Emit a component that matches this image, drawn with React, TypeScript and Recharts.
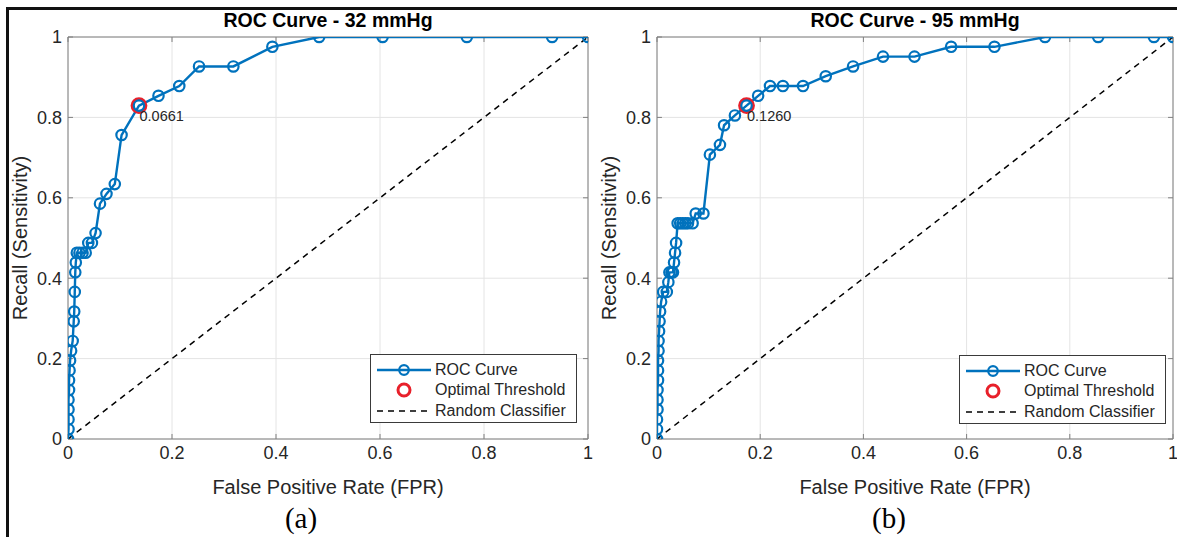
import React from 'react';
import {
  ComposedChart,
  Line,
  Scatter,
  XAxis,
  YAxis,
  CartesianGrid,
  ReferenceLine,
  ReferenceArea,
  Legend,
} from 'recharts';

// ---------- data ----------
const X_TICKS = [0, 0.2, 0.4, 0.6, 0.8, 1];
const Y_TICKS = [0, 0.2, 0.4, 0.6, 0.8, 1];

const FPR_32 = [0, 0.001, 0.001, 0.001, 0.001, 0.002, 0.002, 0.003, 0.004, 0.006, 0.009, 0.011, 0.012, 0.013, 0.014, 0.015, 0.017, 0.022, 0.028, 0.034, 0.039, 0.046, 0.053, 0.0615, 0.074, 0.09, 0.103, 0.1365, 0.174, 0.214, 0.252, 0.318, 0.393, 0.483, 0.605, 0.767, 0.931, 1];
const RECALL_32 = [0, 0.0244, 0.0488, 0.0732, 0.0976, 0.122, 0.1463, 0.1707, 0.1951, 0.2195, 0.2439, 0.2927, 0.3171, 0.3659, 0.4146, 0.439, 0.4634, 0.4634, 0.4634, 0.4634, 0.4878, 0.4878, 0.5122, 0.5854, 0.6098, 0.6341, 0.7561, 0.8293, 0.8537, 0.878, 0.9268, 0.9268, 0.9756, 1, 1, 1, 1, 1];
const OPTIMAL_32 = { fpr: 0.1365, recall: 0.8293, threshold: '0.0661' };

const FPR_95 = [0, 0, 0, 0.001, 0.001, 0.001, 0.002, 0.002, 0.002, 0.003, 0.003, 0.004, 0.005, 0.006, 0.008, 0.012, 0.019, 0.022, 0.024, 0.028, 0.031, 0.033, 0.035, 0.037, 0.04, 0.045, 0.05, 0.055, 0.06, 0.069, 0.075, 0.09, 0.1025, 0.122, 0.13, 0.151, 0.1735, 0.196, 0.219, 0.244, 0.283, 0.327, 0.38, 0.438, 0.499, 0.57, 0.654, 0.752, 0.855, 0.963, 1];
const RECALL_95 = [0, 0.0244, 0.0488, 0.0732, 0.0976, 0.122, 0.1463, 0.1707, 0.1951, 0.2195, 0.2439, 0.2683, 0.2927, 0.3171, 0.3415, 0.3659, 0.3659, 0.3902, 0.4146, 0.4146, 0.4146, 0.439, 0.4634, 0.4878, 0.5366, 0.5366, 0.5366, 0.5366, 0.5366, 0.5366, 0.561, 0.561, 0.7073, 0.7317, 0.7805, 0.8049, 0.8293, 0.8537, 0.878, 0.878, 0.878, 0.9024, 0.9268, 0.9512, 0.9512, 0.9756, 0.9756, 1, 1, 1, 1];
const OPTIMAL_95 = { fpr: 0.1735, recall: 0.8293, threshold: '0.1260' };

const DIAGONAL_FPR = [0, 1];
const DIAGONAL_RECALL = [0, 1];

const LEGEND_LABELS = ['ROC Curve', 'Optimal Threshold', 'Random Classifier'];

// ---------- styles ----------
const FONT = '"Liberation Sans", Arial, Helvetica, sans-serif';
const BLUE = '#0072BD';
const RED = '#E8202A';
const TEXT = '#262626';
const BOX = '#808080';
const GRID = '#e4e4e4';
const TICK_DX = 0.0096;
const TICK_DY = 0.0125;

const zip = (xs: number[], ys: number[]) => xs.map((x, i) => ({ fpr: x, recall: ys[i] }));

const LegendBox = () => (
  <div
    style={{
      width: 207,
      height: 69,
      boxSizing: 'border-box',
      border: '1px solid #3a3a3a',
      background: '#fff',
      position: 'relative',
      fontFamily: FONT,
      fontSize: 16,
      color: TEXT,
    }}
  >
    {LEGEND_LABELS.map((label, i) => (
      <div
        key={label}
        style={{ position: 'absolute', left: 0, top: [4, 24, 45][i], height: 22, width: 205, lineHeight: '22px', whiteSpace: 'nowrap' }}
      >
        <svg width={60} height={22} style={{ position: 'absolute', left: 5, top: 0 }}>
          {i === 0 && (
            <g>
              <line x1={1} y1={11} x2={55} y2={11} stroke={BLUE} strokeWidth={2.4} />
              <circle cx={28} cy={11} r={4.8} stroke={BLUE} strokeWidth={2.2} fill="none" />
            </g>
          )}
          {i === 1 && <circle cx={28} cy={11} r={6} stroke={RED} strokeWidth={3} fill="none" />}
          {i === 2 && <line x1={1} y1={11} x2={55} y2={11} stroke="#000" strokeWidth={1.5} strokeDasharray="6 5" />}
        </svg>
        <span style={{ position: 'absolute', left: 64, top: 0 }}>{label}</span>
      </div>
    ))}
  </div>
);

type PanelProps = {
  pageLeft: number;
  width: number;
  marginLeft: number;
  marginRight: number;
  yAxisWidth: number;
  yLabelOffset: number;
  fpr: number[];
  recall: number[];
  optimal: { fpr: number; recall: number; threshold: string };
  legendLeft: number;
  legendTop: number;
};

const RocPanel = (p: PanelProps) => {
  const roc = zip(p.fpr, p.recall);
  const diag = zip(DIAGONAL_FPR, DIAGONAL_RECALL);
  const opt = [{ fpr: p.optimal.fpr, recall: p.optimal.recall }];
  return (
    <div style={{ position: 'absolute', left: p.pageLeft, top: 0 }}>
      <ComposedChart
        width={p.width}
        height={537}
        margin={{ top: 37, right: p.marginRight, bottom: 38, left: p.marginLeft }}
        style={{ fontFamily: FONT }}
      >
        <CartesianGrid stroke={GRID} strokeWidth={1} />
        <XAxis
          type="number"
          dataKey="fpr"
          domain={[0, 1]}
          ticks={X_TICKS}
          interval={0}
          allowDataOverflow
          axisLine={false}
          tickLine={false}
          tickSize={0}
          tickMargin={7}
          height={60}
          tick={{ fontSize: 18, fill: TEXT, fontFamily: FONT }}
          label={{ value: 'False Positive Rate (FPR)', position: 'insideBottom', offset: 5, fontSize: 20, fill: TEXT, fontFamily: FONT }}
        />
        <YAxis
          type="number"
          dataKey="recall"
          domain={[0, 1]}
          ticks={Y_TICKS}
          interval={0}
          allowDataOverflow
          axisLine={false}
          tickLine={false}
          tickSize={0}
          tickMargin={6}
          width={p.yAxisWidth}
          tick={{ fontSize: 18, fill: TEXT, fontFamily: FONT }}
          label={{
            value: 'Recall (Sensitivity)',
            angle: -90,
            position: 'insideLeft',
            offset: p.yLabelOffset,
            fontSize: 20,
            fill: TEXT,
            fontFamily: FONT,
            style: { textAnchor: 'middle' },
          }}
        />
        <ReferenceArea x1={0} x2={1} y1={0} y2={1} fill="none" stroke={BOX} strokeWidth={1} ifOverflow="visible" />
        {X_TICKS.map((t) => (
          <ReferenceLine key={'xb' + t} segment={[{ x: t, y: 0 }, { x: t, y: TICK_DY }]} stroke={BOX} ifOverflow="visible" />
        ))}
        {X_TICKS.map((t) => (
          <ReferenceLine key={'xt' + t} segment={[{ x: t, y: 1 }, { x: t, y: 1 - TICK_DY }]} stroke={BOX} ifOverflow="visible" />
        ))}
        {Y_TICKS.map((t) => (
          <ReferenceLine key={'yl' + t} segment={[{ x: 0, y: t }, { x: TICK_DX, y: t }]} stroke={BOX} ifOverflow="visible" />
        ))}
        {Y_TICKS.map((t) => (
          <ReferenceLine key={'yr' + t} segment={[{ x: 1, y: t }, { x: 1 - TICK_DX, y: t }]} stroke={BOX} ifOverflow="visible" />
        ))}
        <Line
          data={diag}
          dataKey="recall"
          type="linear"
          stroke="#000"
          strokeWidth={1.5}
          strokeDasharray="6 5"
          dot={false}
          activeDot={false}
          isAnimationActive={false}
          legendType="none"
        />
        <Line
          data={roc}
          dataKey="recall"
          type="linear"
          stroke={BLUE}
          strokeWidth={2.4}
          dot={(d: any) => (
            <circle key={'d' + d.index} cx={d.cx} cy={d.cy} r={5.2} stroke={BLUE} strokeWidth={2.2} fill="none" />
          )}
          activeDot={false}
          isAnimationActive={false}
        />
        <Scatter
          data={opt}
          dataKey="recall"
          isAnimationActive={false}
          shape={(s: any) => (
            <g>
              <circle cx={s.cx} cy={s.cy} r={6.8} stroke={RED} strokeWidth={3.2} fill="none" />
              <text x={s.cx + 0.5} y={s.cy + 15} fontSize={14.5} fill={TEXT} fontFamily={FONT}>
                {p.optimal.threshold}
              </text>
            </g>
          )}
        />
        <Legend
          layout="vertical"
          align="center"
          verticalAlign="middle"
          content={() => <LegendBox />}
          wrapperStyle={{ left: p.legendLeft, top: p.legendTop, width: 207, height: 69 }}
        />
      </ComposedChart>
    </div>
  );
};

const Title = ({ cx, text }: { cx: number; text: string }) => (
  <div
    style={{
      position: 'absolute',
      left: cx - 200,
      width: 400,
      top: 10,
      textAlign: 'center',
      fontFamily: FONT,
      fontWeight: 'bold',
      fontSize: 19.5,
      lineHeight: '20px',
      color: '#000',
      whiteSpace: 'nowrap',
    }}
  >
    {text}
  </div>
);

const Caption = ({ cx, text }: { cx: number; text: string }) => (
  <div
    style={{
      position: 'absolute',
      left: cx - 50,
      width: 100,
      top: 502,
      textAlign: 'center',
      fontFamily: '"Liberation Serif", "Times New Roman", serif',
      fontSize: 29,
      lineHeight: '32px',
      color: '#000',
    }}
  >
    {text}
  </div>
);

export default function App() {
  return (
    <div style={{ position: 'absolute', left: 0, top: 0, width: 1177, height: 537, background: '#fff', overflow: 'hidden' }}>
      <div
        style={{
          position: 'absolute',
          left: 6,
          top: 7,
          width: 1180,
          height: 540,
          borderTop: '3px solid #111',
          borderLeft: '3px solid #111',
        }}
      />
      <RocPanel
        pageLeft={0}
        width={602}
        marginLeft={8}
        marginRight={14}
        yAxisWidth={60}
        yLabelOffset={12}
        fpr={FPR_32}
        recall={RECALL_32}
        optimal={OPTIMAL_32}
        legendLeft={370}
        legendTop={354}
      />
      <RocPanel
        pageLeft={590}
        width={587}
        marginLeft={10}
        marginRight={4}
        yAxisWidth={57}
        yLabelOffset={9}
        fpr={FPR_95}
        recall={RECALL_95}
        optimal={OPTIMAL_95}
        legendLeft={369}
        legendTop={355}
      />
      <Title cx={328} text="ROC Curve - 32 mmHg" />
      <Title cx={915} text="ROC Curve - 95 mmHg" />
      <Caption cx={301} text="(a)" />
      <Caption cx={889} text="(b)" />
    </div>
  );
}
